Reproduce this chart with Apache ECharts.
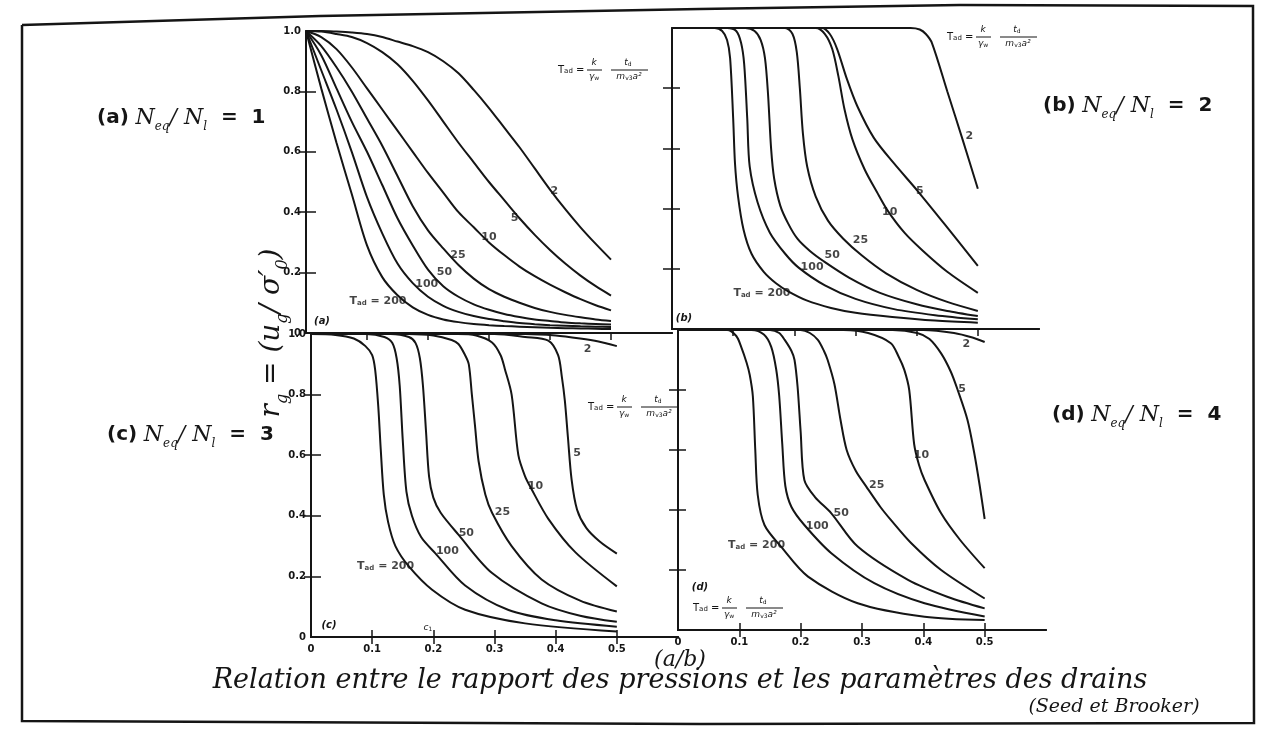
<!DOCTYPE html>
<html><head><meta charset="utf-8">
<script src="https://cdn.jsdelivr.net/npm/echarts@6.0.0/dist/echarts.min.js"></script>
<style>html,body{margin:0;padding:0;background:#fff}#c{width:1267px;height:731px}</style>
</head><body><div id="c"></div>
<script>
// ---------- data ----------
const xTickValues = [0.1, 0.2, 0.3, 0.4, 0.5];
const xLabelValues = [0, 0.1, 0.2, 0.3, 0.4, 0.5];
const yTickValues = [0.2, 0.4, 0.6, 0.8];
const yLabelValues = [0, 0.2, 0.4, 0.6, 0.8, 1.0];

// panel (a): Neq/Nl = 1, r values sampled at xStepA
const xStepA = [0,0.025,0.05,0.075,0.1,0.125,0.15,0.175,0.2,0.225,0.25,0.275,0.3,0.325,0.35,0.375,0.4,0.425,0.45,0.475,0.5];
const a2   = [1.0,1.0,0.998,0.995,0.99,0.98,0.965,0.95,0.93,0.9,0.86,0.805,0.745,0.68,0.615,0.545,0.475,0.41,0.35,0.295,0.243];
const a5   = [1.0,0.998,0.99,0.98,0.96,0.93,0.89,0.835,0.77,0.7,0.63,0.565,0.5,0.44,0.38,0.325,0.275,0.23,0.19,0.155,0.124];
const a10  = [1.0,0.98,0.94,0.88,0.81,0.74,0.67,0.6,0.53,0.465,0.4,0.35,0.3,0.258,0.22,0.188,0.16,0.135,0.112,0.092,0.075];
const a25  = [1.0,0.95,0.88,0.8,0.71,0.62,0.52,0.42,0.34,0.28,0.225,0.18,0.145,0.12,0.1,0.083,0.07,0.06,0.052,0.045,0.04];
const a50  = [1.0,0.92,0.81,0.7,0.6,0.49,0.38,0.29,0.21,0.155,0.12,0.095,0.077,0.063,0.053,0.045,0.04,0.035,0.032,0.03,0.028];
const a100 = [1.0,0.87,0.74,0.6,0.45,0.33,0.23,0.165,0.12,0.09,0.07,0.056,0.046,0.039,0.033,0.029,0.026,0.024,0.022,0.021,0.02];
const a200 = [1.0,0.81,0.63,0.46,0.29,0.185,0.125,0.085,0.06,0.045,0.036,0.03,0.026,0.023,0.021,0.019,0.017,0.016,0.015,0.014,0.013];

// panel (b): Neq/Nl = 2, [a/b, r]
const b2   = [[0,1],[0.39,1],[0.405,0.995],[0.415,0.98],[0.425,0.95],[0.45,0.79],[0.475,0.63],[0.5,0.466]];
const b5   = [[0,1],[0.245,1],[0.258,0.98],[0.27,0.93],[0.286,0.83],[0.303,0.74],[0.33,0.635],[0.363,0.55],[0.401,0.46],[0.445,0.35],[0.5,0.21]];
const b10  = [[0,1],[0.235,1],[0.25,0.98],[0.262,0.93],[0.272,0.84],[0.282,0.73],[0.295,0.63],[0.315,0.53],[0.335,0.455],[0.352,0.395],[0.38,0.32],[0.41,0.26],[0.45,0.19],[0.5,0.12]];
const b25  = [[0,1],[0.185,1],[0.197,0.98],[0.204,0.92],[0.209,0.8],[0.214,0.65],[0.221,0.54],[0.235,0.44],[0.255,0.36],[0.28,0.3],[0.31,0.245],[0.35,0.185],[0.4,0.13],[0.45,0.09],[0.5,0.06]];
const b50  = [[0,1],[0.12,1],[0.135,0.99],[0.145,0.96],[0.152,0.9],[0.157,0.78],[0.162,0.6],[0.167,0.5],[0.177,0.41],[0.19,0.35],[0.205,0.3],[0.225,0.26],[0.248,0.225],[0.29,0.17],[0.34,0.12],[0.4,0.082],[0.45,0.06],[0.5,0.043]];
const b100 = [[0,1],[0.09,1],[0.105,0.99],[0.113,0.95],[0.118,0.88],[0.123,0.7],[0.127,0.54],[0.14,0.42],[0.16,0.32],[0.185,0.25],[0.207,0.204],[0.25,0.145],[0.3,0.1],[0.363,0.066],[0.43,0.046],[0.5,0.032]];
const b200 = [[0,1],[0.07,1],[0.082,0.99],[0.09,0.96],[0.095,0.9],[0.1,0.7],[0.103,0.55],[0.108,0.44],[0.117,0.33],[0.13,0.25],[0.15,0.19],[0.17,0.152],[0.19,0.125],[0.22,0.095],[0.26,0.07],[0.3,0.054],[0.36,0.04],[0.43,0.028],[0.5,0.021]];

// panel (c): Neq/Nl = 3
const c2   = [[0,1],[0.35,1],[0.4,0.995],[0.44,0.985],[0.47,0.975],[0.5,0.96]];
const c5   = [[0,1],[0.3,1],[0.35,0.99],[0.388,0.978],[0.404,0.93],[0.41,0.86],[0.415,0.78],[0.42,0.66],[0.426,0.52],[0.435,0.42],[0.45,0.36],[0.472,0.315],[0.5,0.275]];
const c10  = [[0,1],[0.24,1],[0.27,0.995],[0.296,0.972],[0.31,0.93],[0.317,0.884],[0.328,0.8],[0.339,0.6],[0.35,0.53],[0.36,0.49],[0.388,0.39],[0.432,0.28],[0.5,0.167]];
const c25  = [[0,1],[0.16,1],[0.2,0.995],[0.23,0.98],[0.241,0.967],[0.252,0.93],[0.258,0.9],[0.263,0.8],[0.268,0.7],[0.274,0.58],[0.285,0.47],[0.296,0.41],[0.328,0.3],[0.377,0.19],[0.44,0.12],[0.5,0.084]];
const c50  = [[0,1],[0.13,1],[0.16,0.99],[0.171,0.97],[0.178,0.92],[0.183,0.83],[0.188,0.68],[0.193,0.53],[0.2,0.46],[0.212,0.41],[0.241,0.338],[0.296,0.211],[0.377,0.111],[0.44,0.07],[0.5,0.05]];
const c100 = [[0,1],[0.09,1],[0.12,0.99],[0.133,0.97],[0.14,0.92],[0.145,0.83],[0.15,0.65],[0.156,0.48],[0.165,0.4],[0.18,0.33],[0.203,0.277],[0.252,0.17],[0.323,0.089],[0.4,0.055],[0.5,0.034]];
const c200 = [[0,1],[0.04,0.997],[0.07,0.985],[0.089,0.96],[0.1,0.93],[0.105,0.88],[0.11,0.76],[0.114,0.62],[0.119,0.47],[0.126,0.38],[0.138,0.3],[0.16,0.233],[0.198,0.156],[0.252,0.09],[0.35,0.045],[0.5,0.018]];

// panel (d): Neq/Nl = 4
const d2   = [[0,1],[0.4,1],[0.45,0.99],[0.48,0.975],[0.5,0.96]];
const d5   = [[0,1],[0.35,1],[0.39,0.99],[0.41,0.97],[0.429,0.922],[0.445,0.86],[0.456,0.8],[0.472,0.7],[0.483,0.59],[0.492,0.48],[0.5,0.37]];
const d10  = [[0,1],[0.27,1],[0.31,0.99],[0.347,0.956],[0.36,0.91],[0.369,0.867],[0.377,0.8],[0.385,0.62],[0.393,0.55],[0.402,0.5],[0.429,0.389],[0.46,0.3],[0.5,0.206]];
const d25  = [[0,1],[0.2,1],[0.215,0.99],[0.228,0.967],[0.238,0.93],[0.244,0.9],[0.255,0.82],[0.265,0.7],[0.275,0.6],[0.29,0.53],[0.307,0.478],[0.33,0.41],[0.347,0.367],[0.38,0.29],[0.429,0.2],[0.5,0.105]];
const d50  = [[0,1],[0.15,1],[0.165,0.99],[0.174,0.967],[0.185,0.93],[0.19,0.9],[0.195,0.81],[0.2,0.66],[0.206,0.5],[0.223,0.444],[0.25,0.389],[0.293,0.278],[0.375,0.167],[0.44,0.11],[0.5,0.072]];
const d100 = [[0,1],[0.12,1],[0.14,0.985],[0.152,0.944],[0.16,0.87],[0.165,0.78],[0.17,0.62],[0.175,0.48],[0.185,0.41],[0.206,0.35],[0.25,0.256],[0.32,0.156],[0.402,0.089],[0.5,0.045]];
const d200 = [[0,1],[0.08,1],[0.095,0.98],[0.103,0.944],[0.112,0.89],[0.117,0.85],[0.122,0.78],[0.126,0.6],[0.13,0.45],[0.141,0.35],[0.168,0.278],[0.212,0.178],[0.293,0.089],[0.402,0.044],[0.5,0.033]];

// curve labels [a/b, r, text]
const labelsA = [[0.407,0.469,'2'],[0.342,0.381,'5'],[0.3,0.318,'10'],[0.249,0.259,'25'],[0.227,0.2,'50'],[0.198,0.163,'100'],[0.118,0.104,'T_ad = 200']];
const labelsB = [[0.486,0.64,'2'],[0.405,0.458,'5'],[0.356,0.388,'10'],[0.308,0.296,'25'],[0.262,0.247,'50'],[0.229,0.204,'100'],[0.147,0.118,'T_ad = 200']];
const labelsC = [[0.452,0.95,'2'],[0.435,0.608,'5'],[0.367,0.498,'10'],[0.313,0.412,'25'],[0.254,0.343,'50'],[0.223,0.282,'100'],[0.122,0.233,'T_ad = 200']];
const labelsD = [[0.47,0.953,'2'],[0.463,0.802,'5'],[0.397,0.583,'10'],[0.324,0.483,'25'],[0.266,0.391,'50'],[0.227,0.347,'100'],[0.128,0.283,'T_ad = 200']];

const ratioTitles = ['(a)', '(b)', '(c)', '(d)'];
const ratioValues = ['1', '2', '3', '4'];

// ---------- build ----------
const zipA = v => v.map((r, i) => [xStepA[i], r]);
const panelCurves = [
  [zipA(a2), zipA(a5), zipA(a10), zipA(a25), zipA(a50), zipA(a100), zipA(a200)],
  [b2, b5, b10, b25, b50, b100, b200],
  [c2, c5, c10, c25, c50, c100, c200],
  [d2, d5, d10, d25, d50, d100, d200]
];
const panelLabels = [labelsA, labelsB, labelsC, labelsD];

const INK = '#151515';
const grids = [
  {left: 306, top: 31, width: 366, height: 302},
  {left: 672, top: 28, width: 367, height: 301},
  {left: 311, top: 334, width: 367, height: 303},
  {left: 678, top: 330, width: 368, height: 300}
];
const tickFont = {fontSize: 10, fontWeight: 'bold', fontFamily: 'DejaVu Sans', color: INK};
const xAxes = [], yAxes = [], series = [];
grids.forEach((g, i) => {
  const lineStyle = {color: INK, width: 2};
  xAxes.push({
    gridIndex: i, type: 'value', min: 0, max: 0.6, interval: 0.1, position: 'bottom',
    axisLine: {show: true, lineStyle},
    axisTick: {show: i >= 2, inside: true, length: 7, customValues: xTickValues, lineStyle: {color: INK, width: 1.5}},
    axisLabel: Object.assign({show: i >= 2, customValues: xLabelValues, margin: 7,
      formatter: v => v === 0 ? '0' : v.toFixed(1)}, tickFont),
    splitLine: {show: false}
  });
  xAxes.push({
    gridIndex: i, type: 'value', min: 0, max: 0.6, interval: 0.1, position: 'top',
    axisLine: {show: true, lineStyle},
    axisTick: {show: true, inside: true, length: 7, customValues: xTickValues, lineStyle: {color: INK, width: 1.5}},
    axisLabel: {show: false}, splitLine: {show: false}
  });
  const left = i % 2 === 0;
  yAxes.push({
    gridIndex: i, type: 'value', min: 0, max: 1, interval: 0.2, position: 'left',
    axisLine: {show: true, lineStyle},
    axisTick: {show: true, inside: true, length: left ? 10 : 8, customValues: yTickValues, lineStyle: {color: INK, width: 1.5}},
    axisLabel: Object.assign({show: left, customValues: yLabelValues, margin: 5,
      formatter: v => v === 0 ? '0' : v.toFixed(1)}, tickFont),
    splitLine: {show: false}
  });
  yAxes.push({
    gridIndex: i, type: 'value', min: 0, max: 1, interval: 0.2, position: 'right',
    axisLine: {show: true, lineStyle},
    axisTick: {show: true, inside: true, length: left ? 7 : 9, customValues: yTickValues, lineStyle: {color: INK, width: 1.5}},
    axisLabel: {show: false}, splitLine: {show: false}
  });
  panelCurves[i].forEach((data) => {
    series.push({
      type: 'line', xAxisIndex: 2 * i, yAxisIndex: 2 * i, data,
      showSymbol: false, symbol: 'none', smooth: 0.3,
      lineStyle: {color: INK, width: 2}, silent: true, z: 3
    });
  });
  series.push({
    type: 'scatter', xAxisIndex: 2 * i, yAxisIndex: 2 * i, silent: true, z: 6,
    symbolSize: 1, itemStyle: {color: 'rgba(0,0,0,0)'},
    data: panelLabels[i].map(l => ({value: [l[0], l[1]], name: l[2]})),
    label: {
      show: true, position: 'inside', color: INK, fontSize: 11, fontWeight: 'bold', fontFamily: 'DejaVu Sans',
      formatter: p => p.name.indexOf('T_ad') === 0 ? '{t|T}{s|ad}{t|' + p.name.slice(4) + '}' : p.name,
      rich: {t: {fontSize: 11, fontWeight: 'bold', fontFamily: 'DejaVu Sans', color: INK},
             s: {fontSize: 7, fontWeight: 'bold', fontFamily: 'DejaVu Sans', color: INK, verticalAlign: 'bottom'}}
    }
  });
});

// ---------- text / decoration ----------
const subRich = {
  t: {fontSize: 10, fontFamily: 'DejaVu Sans', fill: INK},
  s: {fontSize: 7, fontFamily: 'DejaVu Sans', fill: INK, verticalAlign: 'bottom'},
  i: {fontSize: 9, fontFamily: 'DejaVu Sans', fontStyle: 'italic', fill: INK},
  is: {fontSize: 6, fontFamily: 'DejaVu Sans', fill: INK, verticalAlign: 'bottom'}
};
function formula(x, y) {
  const txt = (tx, ty, text, align) => ({type: 'text', x: tx, y: ty,
    style: {text, rich: subRich, align: align || 'center', verticalAlign: 'middle', fill: INK, fontSize: 10}});
  return {type: 'group', x, y, silent: true, children: [
    txt(0, 0, '{t|T}{s|ad}{t| =}', 'left'),
    txt(36, -7, '{i|k}'),
    {type: 'line', shape: {x1: 29, y1: 0, x2: 44, y2: 0}, style: {stroke: INK, lineWidth: 1}},
    txt(36, 7, '{i|γ}{is|w}'),
    txt(70, -7, '{i|t}{is|d}'),
    {type: 'line', shape: {x1: 53, y1: 0, x2: 90, y2: 0}, style: {stroke: INK, lineWidth: 1}},
    txt(71, 7, '{i|m}{is|v3}{i|a²}')
  ]};
}
const bigRich = {
  b: {fontSize: 20, fontWeight: 'bold', fontFamily: 'DejaVu Sans', fill: INK, lineHeight: 30},
  n: {fontSize: 22, fontStyle: 'italic', fontFamily: 'DejaVu Serif', fill: INK, lineHeight: 30},
  s: {fontSize: 12, fontStyle: 'italic', fontFamily: 'DejaVu Serif', fill: INK, verticalAlign: 'bottom', lineHeight: 30}
};
const bigLabel = (x, y, k) => ({type: 'text', x, y, silent: true,
  style: {text: '{b|' + ratioTitles[k] + '}  {n|N}{s|eq}{n|/ N}{s|l}{b|  =  ' + ratioValues[k] + '}',
    rich: bigRich, verticalAlign: 'middle', align: 'left'}});
const small = (x, y, text) => ({type: 'text', x, y, silent: true,
  style: {text, fontSize: 10, fontStyle: 'italic', fontWeight: 'bold', fontFamily: 'DejaVu Sans', fill: INK, align: 'center', verticalAlign: 'middle'}});

const graphics = [
  {type: 'polyline', silent: true, shape: {points: [[22,25],[320,16],[700,9],[960,5],[1253,6],[1254,723],[700,724],[22,721],[22,25]]},
   style: {stroke: INK, lineWidth: 2.5, fill: null}},
  formula(558, 70), formula(947, 37), formula(588, 407), formula(693, 608),
  bigLabel(97, 118, 0), bigLabel(1043, 106, 1), bigLabel(107, 435, 2), bigLabel(1052, 415, 3),
  small(322, 321, '(a)'), small(684, 318, '(b)'), small(329, 625, '(c)'), small(700, 587, '(d)'),
  {type: 'text', x: 428, y: 628, silent: true, style: {text: '{i|c}{is|1}', rich: subRich, align: 'center', verticalAlign: 'middle'}},
  {type: 'text', x: 272, y: 333, rotation: Math.PI / 2, silent: true,
   style: {text: '{i|r}{s|g}{i| = (u}{s|g}{i|/ σ′}{s|0}{i|)}', align: 'center', verticalAlign: 'middle',
     rich: {i: {fontSize: 28, fontStyle: 'italic', fontFamily: 'DejaVu Serif', fill: INK, lineHeight: 38},
            s: {fontSize: 16, fontStyle: 'italic', fontFamily: 'DejaVu Serif', fill: INK, verticalAlign: 'bottom', lineHeight: 38}}}},
  {type: 'text', x: 680, y: 660, silent: true,
   style: {text: '(a/b)', fontSize: 22, fontStyle: 'italic', fontFamily: 'DejaVu Serif', fill: INK, align: 'center', verticalAlign: 'middle'}},
  {type: 'text', x: 680, y: 681, silent: true,
   style: {text: 'Relation entre le rapport des pressions et les paramètres des drains', fontSize: 27, fontStyle: 'italic', fontFamily: 'DejaVu Serif', fill: INK, align: 'center', verticalAlign: 'middle'}},
  {type: 'text', x: 1114, y: 707, silent: true,
   style: {text: '(Seed et Brooker)', fontSize: 19, fontStyle: 'italic', fontFamily: 'DejaVu Serif', fill: INK, align: 'center', verticalAlign: 'middle'}}
];

const chart = echarts.init(document.getElementById('c'), null, {renderer: 'canvas'});
chart.setOption({
  backgroundColor: '#ffffff',
  animation: false,
  grid: grids,
  xAxis: xAxes,
  yAxis: yAxes,
  series,
  graphic: graphics
});
</script></body></html>
